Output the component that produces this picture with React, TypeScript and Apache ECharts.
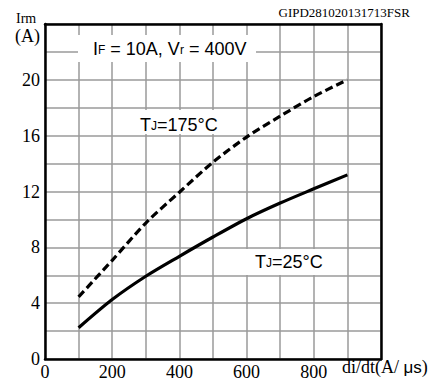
import React, { useEffect, useRef } from 'react';
import * as echarts from 'echarts';

const diDt = [100, 200, 300, 400, 500, 600, 700, 800, 900];
const irmHot = [4.45, 7.07, 9.74, 11.95, 14.1, 15.9, 17.4, 18.8, 20.0];
const irmCold = [2.24, 4.26, 5.93, 7.36, 8.74, 10.05, 11.17, 12.19, 13.19];
const xTickLabels = [0, 200, 400, 600, 800];
const yTickLabels = [0, 4, 8, 12, 16, 20];
const chartCode = 'GIPD281020131713FSR';

const SERIF = 'Liberation Serif';
const SANS = 'Liberation Sans';

export default function App() {
  const ref = useRef<HTMLDivElement>(null);
  useEffect(() => {
    if (!ref.current) return;
    const chart = echarts.init(ref.current, undefined, { renderer: 'svg' });
    const gridLine = { show: true, lineStyle: { color: '#9a9a9a', width: 1.5 } };
    const border = { show: true, onZero: false, lineStyle: { color: '#000', width: 2.5 } };
    const big = { fontFamily: SANS, fontSize: 18, fill: '#000', verticalAlign: 'bottom' };
    const sub = { fontFamily: SANS, fontSize: 12, fill: '#000', verticalAlign: 'bottom', padding: [0, 0, 2, 0] };
    const numRich = { n: { color: '#000', fontFamily: SERIF, fontSize: 18 } };
    chart.setOption({
      animation: false,
      backgroundColor: '#fff',
      textStyle: { fontFamily: SERIF },
      grid: { left: 45, top: 24, width: 336, height: 335 },
      xAxis: [
        {
          type: 'value', min: 0, max: 1000, interval: 100,
          axisLine: border, axisTick: { show: false }, splitLine: gridLine,
          axisLabel: {
            margin: 4, color: '#000', fontFamily: SERIF, fontSize: 18, rich: numRich,
            formatter: (v: number) => (xTickLabels.includes(v) ? `{n|${v}}` : ''),
          },
        },
        {
          type: 'value', position: 'top', min: 0, max: 1000, interval: 100,
          axisLine: border, axisTick: { show: false }, axisLabel: { show: false }, splitLine: { show: false },
        },
      ],
      yAxis: [
        {
          type: 'value', min: 0, max: 24, interval: 2,
          axisLine: border, axisTick: { show: false }, splitLine: gridLine,
          axisLabel: {
            margin: 5, color: '#000', fontFamily: SERIF, fontSize: 18, rich: numRich,
            formatter: (v: number) => (yTickLabels.includes(v) ? `{n|${v}}` : ''),
          },
        },
        {
          type: 'value', position: 'right', min: 0, max: 24, interval: 2,
          axisLine: border, axisTick: { show: false }, axisLabel: { show: false }, splitLine: { show: false },
        },
      ],
      series: [
        {
          type: 'line', name: 'TJ=175°C', smooth: 0.3, symbol: 'none',
          data: diDt.map((x, i) => [x, irmHot[i]]),
          lineStyle: { color: '#000', width: 3.2, type: [8, 4] }, z: 5,
        },
        {
          type: 'line', name: 'TJ=25°C', smooth: 0.3, symbol: 'none',
          data: diDt.map((x, i) => [x, irmCold[i]]),
          lineStyle: { color: '#000', width: 3.2 }, z: 5,
        },
      ],
      graphic: [
        { type: 'rect', shape: { x: 78, y: 35, width: 178, height: 27 }, style: { fill: '#fff' }, z: 10 },
        { type: 'rect', shape: { x: 136, y: 110, width: 90, height: 24 }, style: { fill: '#fff' }, z: 10 },
        { type: 'rect', shape: { x: 240, y: 249, width: 93, height: 26 }, style: { fill: '#fff' }, z: 10 },
        {
          type: 'text', x: 93, y: 49, z: 11,
          style: { text: '{a|I}{s|F}{a| = 10A, V}{s|r}{a| = 400V}', verticalAlign: 'middle', rich: { a: big, s: sub } },
        },
        {
          type: 'text', x: 140, y: 125, z: 11,
          style: { text: '{a|T}{s|J}{a|=175°C}', verticalAlign: 'middle', rich: { a: big, s: sub } },
        },
        {
          type: 'text', x: 255, y: 262, z: 11,
          style: { text: '{a|T}{s|J}{a|=25°C}', verticalAlign: 'middle', rich: { a: big, s: sub } },
        },
        {
          type: 'text', x: 16, y: 18, z: 11,
          style: { text: 'Irm', font: `14px ${SERIF}`, fill: '#000', verticalAlign: 'middle' },
        },
        {
          type: 'text', x: 15, y: 36, z: 11,
          style: { text: '(A)', font: `18px ${SERIF}`, fill: '#000', verticalAlign: 'middle' },
        },
        {
          type: 'text', x: 342, y: 367, z: 11,
          style: {
            text: '{a|di/dt(A/ }{b|μs}{a|)}',
            verticalAlign: 'middle',
            rich: {
              a: { fontFamily: SERIF, fontSize: 18, fill: '#000' },
              b: { fontFamily: SANS, fontSize: 17, fill: '#000' },
            },
          },
        },
        {
          type: 'text', x: 410, y: 12, z: 11,
          style: { text: chartCode, font: `13px ${SERIF}`, fill: '#000', align: 'right', verticalAlign: 'middle' },
        },
      ],
    });
    return () => chart.dispose();
  }, []);
  return <div ref={ref} style={{ position: 'fixed', left: 0, top: 0, width: 435, height: 385 }} />;
}
